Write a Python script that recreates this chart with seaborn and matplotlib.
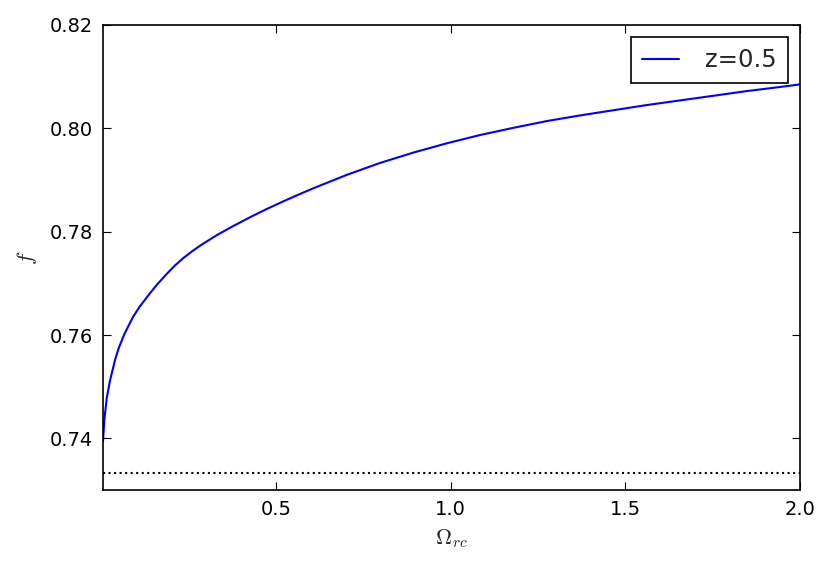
import matplotlib
matplotlib.use("Agg")
import matplotlib.pyplot as plt
import seaborn as sns
import pandas as pd

# data
omega_rc = [0.005, 0.0087, 0.0107, 0.0156, 0.025, 0.0394, 0.05, 0.065, 0.075, 0.0917,
            0.11, 0.1395, 0.16, 0.187, 0.21, 0.235, 0.26, 0.283, 0.330, 0.378, 0.426,
            0.474, 0.522, 0.569, 0.607, 0.703, 0.798, 0.893, 0.989, 1.084, 1.180,
            1.275, 1.371, 1.466, 1.561, 1.657, 1.752, 1.847, 1.943, 2.0]
f_vals = [0.7395, 0.7435, 0.7448, 0.7478, 0.7512, 0.7552, 0.7575, 0.7600, 0.7614, 0.7636,
          0.7655, 0.7681, 0.7698, 0.7718, 0.7734, 0.7749, 0.7762, 0.7773, 0.7793, 0.7811,
          0.7828, 0.7844, 0.7859, 0.7873, 0.7884, 0.7910, 0.7933, 0.7953, 0.7971, 0.7987,
          0.8001, 0.8014, 0.8025, 0.8035, 0.8045, 0.8054, 0.8063, 0.8072, 0.8080, 0.8085]
series_label = "z=0.5"
asymptote = 0.7333
xticks = [0.5, 1.0, 1.5, 2.0]
yticks = [0.74, 0.76, 0.78, 0.80, 0.82]

sns.set_style("ticks")
plt.rcParams["font.family"] = ["DejaVu Sans"]
plt.rcParams["mathtext.fontset"] = "cm"

df = pd.DataFrame({"omega": omega_rc, "f": f_vals, "series": series_label})

fig = plt.figure(figsize=(8.33, 5.65), dpi=100)
ax = fig.add_axes([0.1237, 0.1327, 0.9604 - 0.1237, 0.9558 - 0.1327])

sns.lineplot(data=df, x="omega", y="f", hue="series", palette=["#0000ff"],
             lw=1.5, ax=ax, estimator=None, sort=True)
ax.axhline(asymptote, color="black", linestyle=":", lw=1.5)

ax.set_xlim(0.005, 2.0)
ax.set_ylim(0.73, 0.82)
ax.set_xticks(xticks)
ax.set_xticklabels(["0.5", "1.0", "1.5", "2.0"])
ax.set_yticks(yticks)
ax.set_yticklabels(["0.74", "0.76", "0.78", "0.80", "0.82"])
ax.tick_params(direction="in", length=6, width=0.8, top=True, right=True,
               labelsize=14, pad=7, colors="black")
for s in ax.spines.values():
    s.set_linewidth(1.2)
    s.set_color("black")

ax.set_xlabel(r"$\Omega_{rc}$", fontsize=16, labelpad=6)
ax.set_ylabel(r"$f$", fontsize=16, labelpad=8)

leg = ax.legend(loc="upper right", fontsize=17.5, frameon=True, fancybox=False,
                handlelength=1.5, handletextpad=1.1, borderpad=0.45,
                borderaxespad=0.5)
leg.get_frame().set_edgecolor("black")
leg.get_frame().set_linewidth(1.2)
leg.get_frame().set_alpha(1)

fig.savefig("out.png", dpi=100, facecolor="white")
